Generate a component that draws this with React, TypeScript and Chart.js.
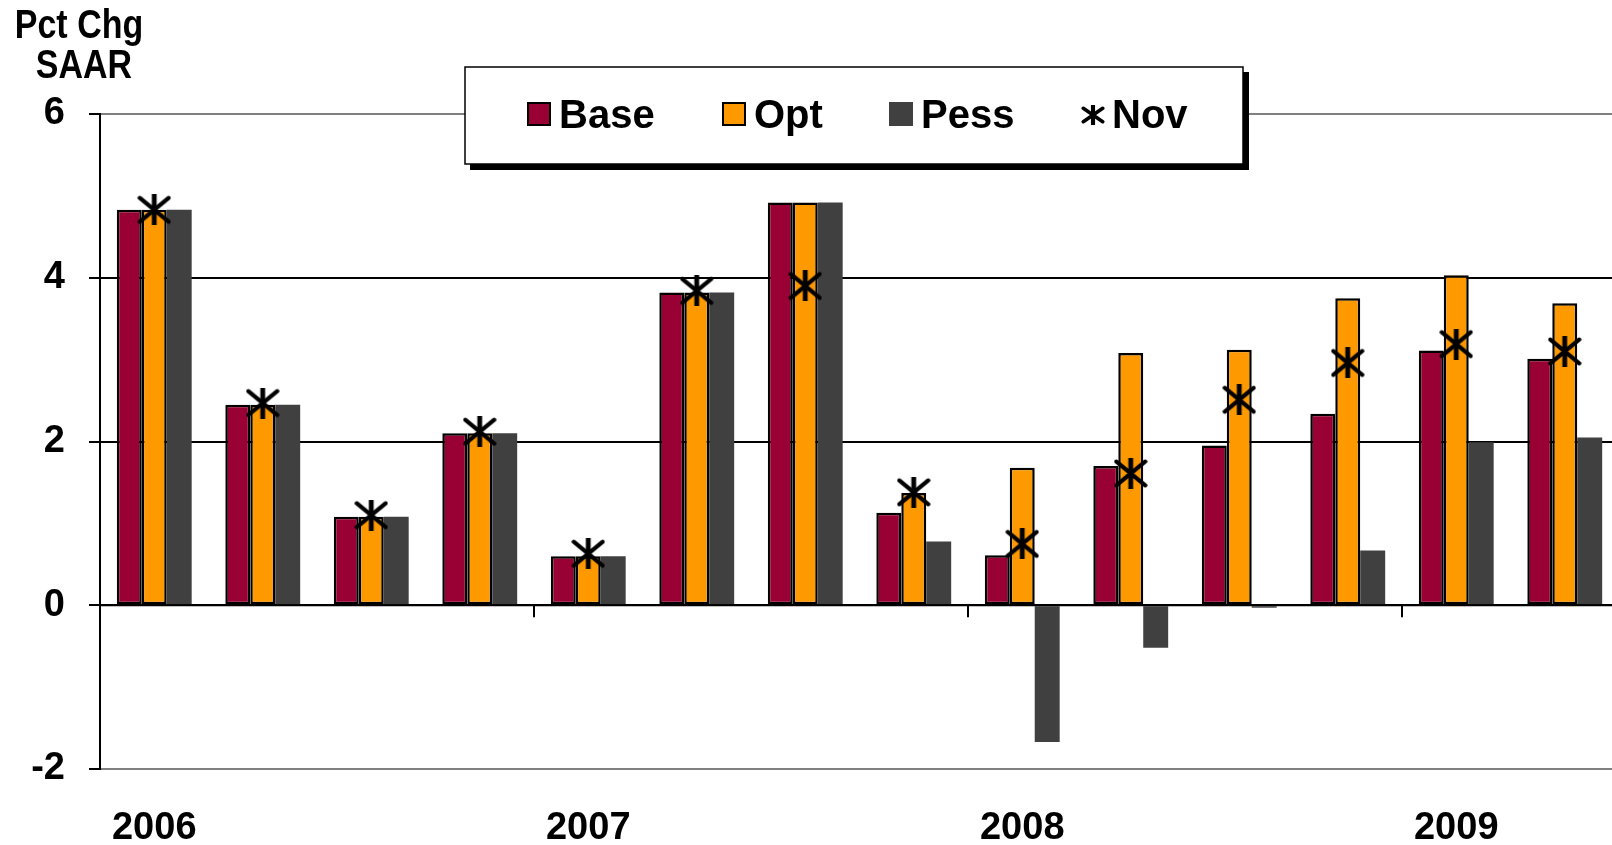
import React, { useEffect, useRef } from "react";
import { Chart, registerables } from "chart.js";

Chart.register(...registerables);

const categories = ["2006", "", "", "", "2007", "", "", "", "2008", "", "", "", "2009", ""];
const baseValues = [4.83, 2.45, 1.08, 2.1, 0.6, 3.82, 4.92, 1.13, 0.61, 1.7, 1.95, 2.34, 3.11, 3.01];
const optValues = [4.83, 2.45, 1.08, 2.1, 0.6, 3.82, 4.92, 1.37, 1.68, 3.08, 3.12, 3.75, 4.03, 3.69];
const pessValues = [4.83, 2.45, 1.08, 2.1, 0.6, 3.82, 4.92, 0.78, -1.67, -0.52, -0.03, 0.67, 1.99, 2.05];
const novValues = [4.83, 2.47, 1.1, 2.12, 0.63, 3.84, 3.9, 1.38, 0.75, 1.61, 2.51, 2.96, 3.19, 3.1];
const yTicks = [-2, 0, 2, 4, 6];
const yearBoundaries = [4, 8, 12];

const FONT = "Liberation Sans, Arial, Helvetica, sans-serif";
const BASE_COLOR = "#990033";
const OPT_COLOR = "#FF9900";
const PESS_COLOR = "#404040";

function makeStar(w: number, h: number, lw: number): HTMLCanvasElement {
  const c = document.createElement("canvas");
  c.width = w;
  c.height = h;
  const g = c.getContext("2d")!;
  g.strokeStyle = "#000";
  g.lineWidth = lw;
  g.lineCap = "round";
  const m = lw / 2 + 0.5;
  g.beginPath();
  g.moveTo(m, m + 1);
  g.lineTo(w - m, h - m - 1);
  g.moveTo(w - m, m + 1);
  g.lineTo(m, h - m - 1);
  g.stroke();
  g.lineCap = "butt";
  g.lineWidth = lw * 1.15;
  g.beginPath();
  g.moveTo(w / 2, 0);
  g.lineTo(w / 2, h);
  g.stroke();
  return c;
}

export default function App() {
  const ref = useRef<HTMLCanvasElement | null>(null);

  useEffect(() => {
    if (!ref.current) return;
    const star = makeStar(34, 31, 4.2);
    const legendStar = makeStar(24, 20, 3.6);

    const decor = {
      id: "decor",
      afterDatasetsDraw(chart: any) {
        const { ctx, chartArea, scales } = chart;
        const y0 = scales.y.getPixelForValue(0);
        ctx.save();
        ctx.strokeStyle = "#000";
        ctx.lineWidth = 2;
        ctx.beginPath();
        ctx.moveTo(chartArea.left, y0);
        ctx.lineTo(chartArea.right, y0);
        for (const i of yearBoundaries) {
          const x = (scales.x.getPixelForValue(i - 1) + scales.x.getPixelForValue(i)) / 2;
          ctx.moveTo(x, y0);
          ctx.lineTo(x, y0 + 12);
        }
        ctx.stroke();
        ctx.restore();
      },
      afterDraw(chart: any) {
        const ctx = chart.ctx as CanvasRenderingContext2D;
        ctx.save();
        // axis title
        ctx.fillStyle = "#000";
        ctx.font = `bold 40px ${FONT}`;
        ctx.textAlign = "center";
        ctx.textBaseline = "alphabetic";
        ctx.save();
        ctx.translate(79, 38);
        ctx.scale(0.85, 1);
        ctx.fillText("Pct Chg", 0, 0);
        ctx.restore();
        ctx.save();
        ctx.translate(84, 78);
        ctx.scale(0.85, 1);
        ctx.fillText("SAAR", 0, 0);
        ctx.restore();

        // legend box with shadow
        const bx = 465, by = 67, bw = 778, bh = 97;
        ctx.fillStyle = "#000";
        ctx.fillRect(bx + 5, by + 5, bw + 1, bh + 1);
        ctx.fillStyle = "#fff";
        ctx.fillRect(bx, by, bw, bh);
        ctx.strokeStyle = "#000";
        ctx.lineWidth = 1.5;
        ctx.strokeRect(bx, by, bw, bh);

        const items = [
          { label: chart.data.datasets[0].label, sx: 527, tx: 559, color: BASE_COLOR, border: true },
          { label: chart.data.datasets[1].label, sx: 722, tx: 754, color: OPT_COLOR, border: true },
          { label: chart.data.datasets[2].label, sx: 889, tx: 921, color: PESS_COLOR, border: false },
        ];
        for (const it of items) {
          ctx.fillStyle = it.color;
          ctx.fillRect(it.sx, 102, 24, 24);
          if (it.border) {
            ctx.strokeStyle = "#000";
            ctx.lineWidth = 2;
            ctx.strokeRect(it.sx + 1, 103, 22, 22);
          }
          ctx.fillStyle = "#000";
          ctx.font = `bold 40px ${FONT}`;
          ctx.textAlign = "left";
          ctx.fillText(it.label, it.tx, 128);
        }
        ctx.drawImage(legendStar, 1081, 105);
        ctx.fillStyle = "#000";
        ctx.fillText(chart.data.datasets[3].label, 1112, 128);
        ctx.restore();
      },
    };

    const chart = new Chart(ref.current, {
      type: "bar",
      data: {
        labels: categories,
        datasets: [
          {
            label: "Base",
            data: baseValues,
            backgroundColor: BASE_COLOR,
            borderColor: "#000",
            borderWidth: 2.5,
            borderSkipped: false,
            categoryPercentage: 0.69,
            barPercentage: 1,
            order: 1,
          },
          {
            label: "Opt",
            data: optValues,
            backgroundColor: OPT_COLOR,
            borderColor: "#000",
            borderWidth: 2.5,
            borderSkipped: false,
            categoryPercentage: 0.69,
            barPercentage: 1,
            order: 1,
          },
          {
            label: "Pess",
            data: pessValues,
            backgroundColor: PESS_COLOR,
            borderWidth: 0,
            categoryPercentage: 0.69,
            barPercentage: 1,
            order: 1,
          },
          {
            type: "line",
            label: "Nov",
            data: novValues,
            showLine: false,
            pointStyle: star as any,
            pointRadius: 12,
            borderColor: "#000",
            backgroundColor: "#000",
            order: 0,
          } as any,
        ],
      },
      options: {
        animation: false,
        responsive: false,
        devicePixelRatio: 1,
        layout: { padding: { left: 0, right: 5, top: 114, bottom: 0 } },
        plugins: {
          legend: { display: false },
          tooltip: { enabled: false },
          title: { display: false },
        },
        scales: {
          x: {
            type: "category",
            grid: { display: false, drawTicks: false },
            border: { display: true, color: "#808080", width: 2 },
            ticks: {
              autoSkip: false,
              maxRotation: 0,
              minRotation: 0,
              padding: 37,
              color: "#000",
              font: { family: FONT, size: 38, weight: "bold" },
            },
            afterFit: (scale: any) => {
              scale.height = 76;
            },
          },
          y: {
            min: -2,
            max: 6,
            afterBuildTicks: (scale: any) => {
              scale.ticks = yTicks.map((v) => ({ value: v }));
            },
            ticks: {
              padding: 24,
              color: "#000",
              font: { family: FONT, size: 38, weight: "bold" },
            },
            grid: {
              color: (c: any) => (c.tick && (c.tick.value === 6 || c.tick.value === -2) ? "#808080" : "#000"),
              lineWidth: 2,
              tickLength: 11,
              tickColor: "#000",
              tickWidth: 2,
            },
            border: { display: true, color: "#000", width: 2 },
            afterFit: (scale: any) => {
              scale.width = 100;
            },
          },
        },
      },
      plugins: [decor],
    });
    return () => chart.destroy();
  }, []);

  return (
    <div style={{ position: "fixed", left: 0, top: 0, width: 1612, height: 845, overflow: "hidden", background: "#fff" }}>
      <canvas ref={ref} width={1632} height={845} style={{ display: "block", width: 1632, height: 845 }} />
    </div>
  );
}
